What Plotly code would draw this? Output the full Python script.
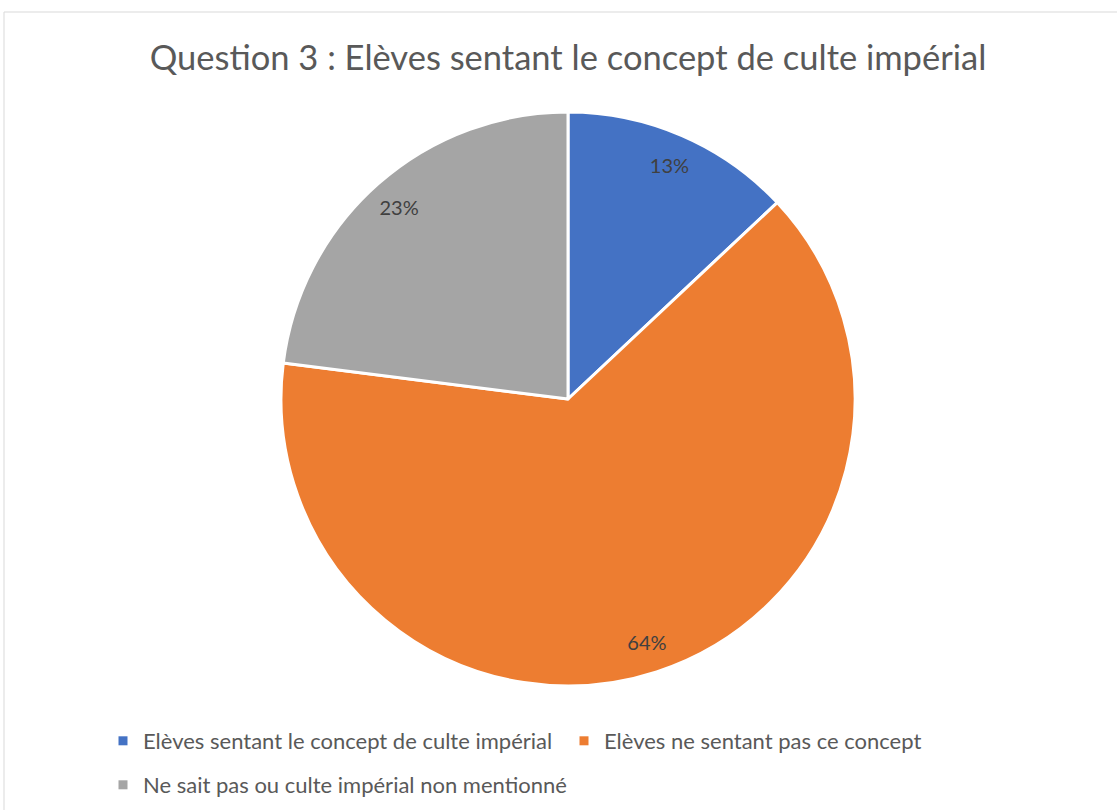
import plotly.graph_objects as go

labels = ["Elèves sentant le concept de culte impérial",
          "Elèves ne sentant pas ce concept",
          "Ne sait pas ou culte impérial non mentionné"]
values = [13, 64, 23]
colors = ["#4472C4", "#ED7D31", "#A5A5A5"]

W, H = 1117, 810
cx, cy, R = 568, 399, 287
dom_x = [(cx - R) / W, (cx + R) / W]
dom_y = [(H - cy - R) / H, (H - cy + R) / H]
FONT = "Lato, Open Sans, sans-serif"

fig = go.Figure()
fig.add_trace(go.Pie(
    labels=labels, values=values, sort=False, direction="clockwise", rotation=0,
    marker=dict(colors=colors, line=dict(color="white", width=3)),
    textinfo="none", hoverinfo="label+percent",
    domain=dict(x=dom_x, y=dom_y), showlegend=False,
))
# transparent ring used only to place percentage labels near the rim
fig.add_trace(go.Pie(
    labels=labels, values=values, sort=False, direction="clockwise", rotation=0,
    hole=0.78,
    marker=dict(colors=["rgba(0,0,0,0)"] * 3, line=dict(width=0)),
    textinfo="percent", textposition="inside", insidetextorientation="horizontal",
    texttemplate="%{percent:.0%}",
    textfont=dict(family=FONT, size=20, color="#404040"),
    hoverinfo="skip", showlegend=False,
    domain=dict(x=dom_x, y=dom_y),
))
# legend entries (square markers), split over two rows like the original
legend_ids = ["legend", "legend", "legend2"]
for lab, col, lg in zip(labels, colors, legend_ids):
    fig.add_trace(go.Scatter(
        x=[None], y=[None], mode="markers", name=lab, legend=lg,
        marker=dict(symbol="square", size=9, color=col), hoverinfo="skip",
    ))

legend_common = dict(orientation="h", xanchor="left", yanchor="middle",
                     font=dict(family=FONT, size=22, color="#595959"),
                     bgcolor="rgba(0,0,0,0)", itemclick=False, itemdoubleclick=False)

fig.update_layout(
    width=W, height=H,
    margin=dict(l=0, r=0, t=0, b=0),
    paper_bgcolor="white", plot_bgcolor="white",
    font=dict(family=FONT, color="#595959"),
    xaxis=dict(visible=False), yaxis=dict(visible=False),
    title=dict(text="Question 3 : Elèves sentant le concept de culte impérial",
               x=568 / W, xanchor="center", y=1 - 58 / H, yanchor="middle",
               yref="container",
               font=dict(family=FONT, size=34.5, color="#595959")),
    legend=dict(x=103 / W, y=(H - 741) / H, entrywidth=416, entrywidthmode="pixels",
                **legend_common),
    legend2=dict(x=103 / W, y=(H - 785) / H, **legend_common),
    shapes=[dict(type="rect", xref="paper", yref="paper",
                 x0=4 / W, x1=1.01, y0=-0.01, y1=(H - 12) / H,
                 line=dict(color="#D9D9D9", width=1), fillcolor="rgba(0,0,0,0)")],
)

fig.write_html("out.html", config={"displayModeBar": False},
               post_script="document.body.style.margin='0';document.body.style.overflow='hidden';")
